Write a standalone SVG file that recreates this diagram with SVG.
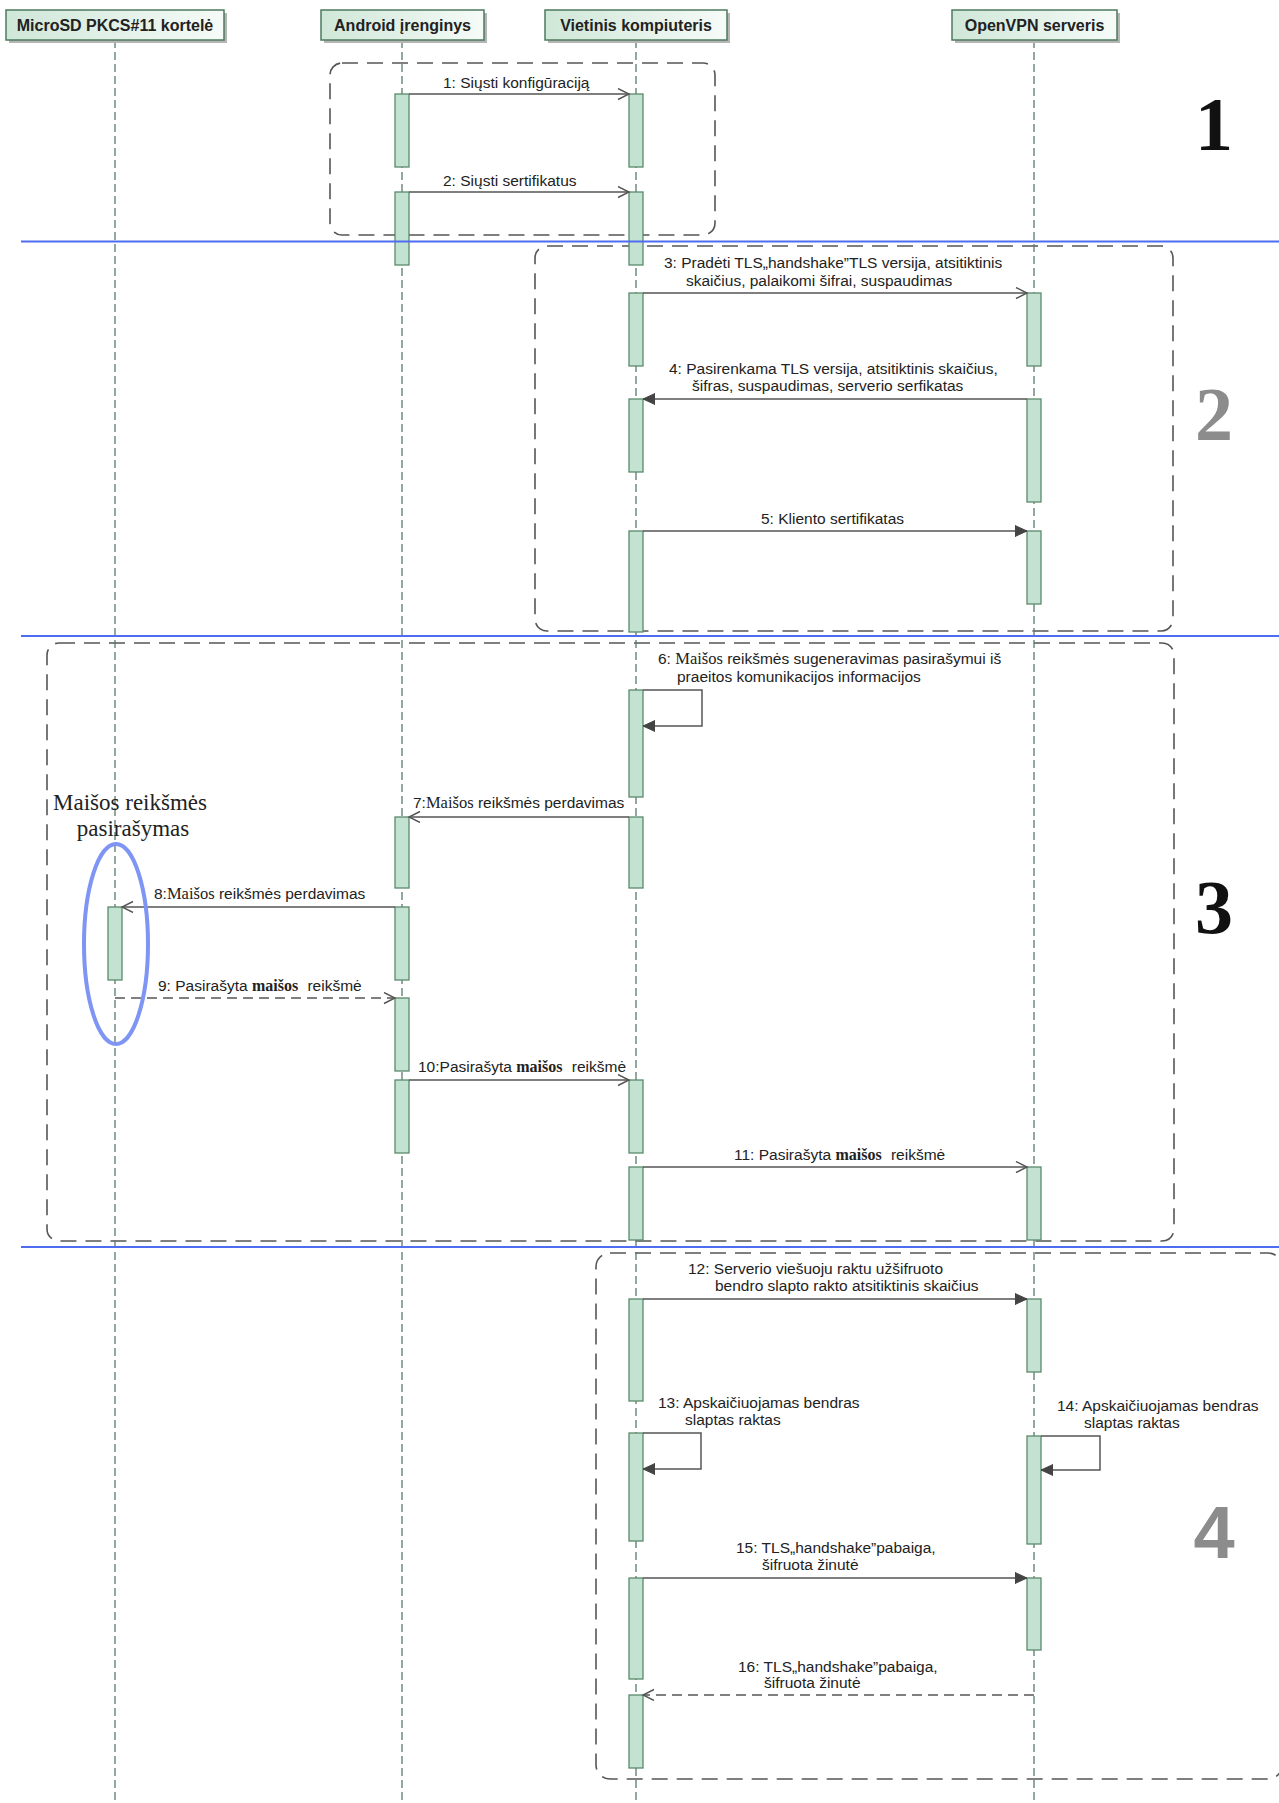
<svg xmlns="http://www.w3.org/2000/svg" width="1279" height="1803" viewBox="0 0 1279 1803">
  <defs>
    <linearGradient id="headFill" x1="0" y1="0" x2="1" y2="0">
      <stop offset="0" stop-color="#cfe7d8"/>
      <stop offset="1" stop-color="#f6fbf8"/>
    </linearGradient>
    <marker id="open" markerUnits="userSpaceOnUse" markerWidth="14" markerHeight="14" refX="12" refY="6" orient="auto">
      <path d="M1,0.5 L12,6 L1,11.5" fill="none" stroke="#555" stroke-width="1.4"/>
    </marker>
    <marker id="filled" markerUnits="userSpaceOnUse" markerWidth="14" markerHeight="14" refX="12" refY="6" orient="auto">
      <path d="M0,0.5 L12,6 L0,11.5 Z" fill="#444" stroke="#444" stroke-width="1"/>
    </marker>
  </defs>
  <style>
    .head { fill: url(#headFill); stroke: #4d7a5d; stroke-width: 1.5; }
    .shadow { fill: #b5b5b5; }
    .headtxt { font-family: "Liberation Sans", Arial, sans-serif; font-weight: bold; font-size: 16px; fill: #222; text-anchor: middle; }
    .life { stroke: #5a7a6a; stroke-width: 1.3; stroke-dasharray: 8 4; fill: none; }
    .act { fill: #c4e2d1; stroke: #5a8a6a; stroke-width: 1.3; }
    .frame { fill: none; stroke: #555; stroke-width: 1.6; stroke-dasharray: 16 9; }
    .sep { stroke: #4e6cf0; stroke-width: 2; }
    .msg { stroke: #555; stroke-width: 1.5; fill: none; }
    .dash { stroke-dasharray: 10 6; }
    .lbl { font-family: "Liberation Sans", Arial, sans-serif; font-size: 15.5px; fill: #222; }
    .ser { font-family: "Liberation Serif", "Times New Roman", serif; font-size: 16.5px; }
    .serb { font-family: "Liberation Serif", "Times New Roman", serif; font-weight: bold; font-size: 16px; }
    .big { font-family: "Liberation Serif", "Times New Roman", serif; font-weight: bold; font-size: 76px; text-anchor: middle; }
    .note { font-family: "Liberation Serif", "Times New Roman", serif; font-size: 23px; fill: #222; text-anchor: middle; }
  </style>

  <rect width="1279" height="1803" fill="#fff"/>

  <!-- phase frames -->
  <g id="frames">
    <rect class="frame" x="330" y="63" width="385" height="172" rx="12"/>
    <rect class="frame" x="535" y="246" width="638" height="385" rx="12"/>
    <rect class="frame" x="47" y="643" width="1127" height="598" rx="12"/>
    <rect class="frame" x="596" y="1253" width="686" height="526" rx="14"/>
  </g>

  <!-- lifelines -->
  <g id="lifelines">
    <line class="life" x1="115" y1="40" x2="115" y2="1803"/>
    <line class="life" x1="402" y1="40" x2="402" y2="1803"/>
    <line class="life" x1="636" y1="40" x2="636" y2="1803"/>
    <line class="life" x1="1034" y1="40" x2="1034" y2="1803"/>
  </g>

  <g id="microsd">
    <rect class="shadow" x="9" y="13" width="218" height="30"/>
    <rect class="head" x="6" y="10" width="218" height="30"/>
    <text class="headtxt" x="115" y="31">MicroSD PKCS#11 kortelė</text>
    <rect class="act" x="108" y="907" width="14" height="73"/>
  </g>

  <g id="android">
    <rect class="shadow" x="324" y="13" width="163" height="30"/>
    <rect class="head" x="321" y="10" width="163" height="30"/>
    <text class="headtxt" x="402.5" y="31">Android įrenginys</text>
    <rect class="act" x="395" y="94" width="14" height="73"/>
    <rect class="act" x="395" y="192" width="14" height="73"/>
    <rect class="act" x="395" y="817" width="14" height="71"/>
    <rect class="act" x="395" y="907" width="14" height="73"/>
    <rect class="act" x="395" y="998" width="14" height="73"/>
    <rect class="act" x="395" y="1080" width="14" height="73"/>
  </g>

  <g id="vietinis">
    <rect class="shadow" x="548" y="13" width="182" height="30"/>
    <rect class="head" x="545" y="10" width="182" height="30"/>
    <text class="headtxt" x="636" y="31">Vietinis kompiuteris</text>
    <rect class="act" x="629" y="94" width="14" height="73"/>
    <rect class="act" x="629" y="192" width="14" height="73"/>
    <rect class="act" x="629" y="293" width="14" height="73"/>
    <rect class="act" x="629" y="399" width="14" height="73"/>
    <rect class="act" x="629" y="531" width="14" height="101"/>
    <rect class="act" x="629" y="690" width="14" height="107"/>
    <rect class="act" x="629" y="817" width="14" height="71"/>
    <rect class="act" x="629" y="1080" width="14" height="73"/>
    <rect class="act" x="629" y="1167" width="14" height="73"/>
    <rect class="act" x="629" y="1299" width="14" height="102"/>
    <rect class="act" x="629" y="1433" width="14" height="108"/>
    <rect class="act" x="629" y="1578" width="14" height="101"/>
    <rect class="act" x="629" y="1695" width="14" height="73"/>
  </g>

  <g id="openvpn">
    <rect class="shadow" x="955" y="13" width="165" height="30"/>
    <rect class="head" x="952" y="10" width="165" height="30"/>
    <text class="headtxt" x="1034.5" y="31">OpenVPN serveris</text>
    <rect class="act" x="1027" y="293" width="14" height="73"/>
    <rect class="act" x="1027" y="399" width="14" height="103"/>
    <rect class="act" x="1027" y="531" width="14" height="73"/>
    <rect class="act" x="1027" y="1167" width="14" height="73"/>
    <rect class="act" x="1027" y="1299" width="14" height="73"/>
    <rect class="act" x="1027" y="1436" width="14" height="108"/>
    <rect class="act" x="1027" y="1578" width="14" height="72"/>
  </g>

  <!-- messages -->
  <g id="connectors">
    <line class="msg" x1="409" y1="94" x2="629" y2="94" marker-end="url(#open)"/>
    <line class="msg" x1="409" y1="192" x2="629" y2="192" marker-end="url(#open)"/>
    <line class="msg" x1="643" y1="293" x2="1027" y2="293" marker-end="url(#open)"/>
    <line class="msg" x1="1027" y1="399" x2="643" y2="399" marker-end="url(#filled)"/>
    <line class="msg" x1="643" y1="531" x2="1027" y2="531" marker-end="url(#filled)"/>
    <path class="msg" d="M643,690 H702 V726 H643" marker-end="url(#filled)"/>
    <line class="msg" x1="629" y1="817" x2="409" y2="817" marker-end="url(#open)"/>
    <line class="msg" x1="395" y1="907" x2="122" y2="907" marker-end="url(#open)"/>
    <line class="msg dash" x1="115" y1="998" x2="395" y2="998" marker-end="url(#open)"/>
    <line class="msg" x1="409" y1="1080" x2="629" y2="1080" marker-end="url(#open)"/>
    <line class="msg" x1="643" y1="1167" x2="1027" y2="1167" marker-end="url(#open)"/>
    <line class="msg" x1="643" y1="1299" x2="1027" y2="1299" marker-end="url(#filled)"/>
    <path class="msg" d="M643,1433 H701 V1469 H643" marker-end="url(#filled)"/>
    <path class="msg" d="M1041,1436 H1100 V1470 H1041" marker-end="url(#filled)"/>
    <line class="msg" x1="643" y1="1578" x2="1027" y2="1578" marker-end="url(#filled)"/>
    <line class="msg dash" x1="1034" y1="1695" x2="643" y2="1695" marker-end="url(#open)"/>
  </g>

  <!-- message labels -->
  <g id="labels">
    <text class="lbl" x="443" y="88">1: Siųsti konfigūraciją</text>
    <text class="lbl" x="443" y="186">2: Siųsti sertifikatus</text>
    <text class="lbl" x="664" y="268">3: Pradėti TLS„handshake”TLS versija, atsitiktinis</text>
    <text class="lbl" x="686" y="286">skaičius, palaikomi šifrai, suspaudimas</text>
    <text class="lbl" x="669" y="374">4: Pasirenkama TLS versija, atsitiktinis skaičius,</text>
    <text class="lbl" x="692" y="391">šifras, suspaudimas, serverio serfikatas</text>
    <text class="lbl" x="761" y="524">5: Kliento sertifikatas</text>
    <text class="lbl" x="658" y="664">6: <tspan class="ser">Maišos</tspan> reikšmės sugeneravimas pasirašymui iš</text>
    <text class="lbl" x="677" y="682">praeitos komunikacijos informacijos</text>
    <text class="lbl" x="413" y="808">7:<tspan class="ser">Maišos</tspan> reikšmės perdavimas</text>
    <text class="lbl" x="154" y="899">8:<tspan class="ser">Maišos</tspan> reikšmės perdavimas</text>
    <text class="lbl" x="158" y="991">9:  Pasirašyta <tspan class="serb">maišos</tspan><tspan dx="5"> reikšmė</tspan></text>
    <text class="lbl" x="418" y="1072">10:Pasirašyta <tspan class="serb">maišos</tspan><tspan dx="5"> reikšmė</tspan></text>
    <text class="lbl" x="734" y="1160">11: Pasirašyta <tspan class="serb">maišos</tspan><tspan dx="5"> reikšmė</tspan></text>
    <text class="lbl" x="688" y="1274">12: Serverio viešuoju raktu užšifruoto</text>
    <text class="lbl" x="715" y="1291">bendro slapto rakto atsitiktinis skaičius</text>
    <text class="lbl" x="658" y="1408">13: Apskaičiuojamas bendras</text>
    <text class="lbl" x="685" y="1425">slaptas raktas</text>
    <text class="lbl" x="1057" y="1411">14: Apskaičiuojamas bendras</text>
    <text class="lbl" x="1084" y="1428">slaptas raktas</text>
    <text class="lbl" x="736" y="1553">15: TLS„handshake”pabaiga,</text>
    <text class="lbl" x="762" y="1570">šifruota žinutė</text>
    <text class="lbl" x="738" y="1672">16: TLS„handshake”pabaiga,</text>
    <text class="lbl" x="764" y="1688">šifruota žinutė</text>
  </g>

  <!-- signing note -->
  <g id="signing-note">
    <text class="note" x="130" y="810">Maišos reikšmės</text>
    <text class="note" x="133" y="836">pasirašymas</text>
    <ellipse cx="116" cy="944" rx="32" ry="100" fill="none" stroke="#7e95f4" stroke-width="4"/>
  </g>

  <!-- phase numbers -->
  <g id="phase-numbers">
    <text class="big" x="1214" y="150" fill="#111">1</text>
    <text class="big" x="1214" y="440" fill="#8c8c8c">2</text>
    <text class="big" x="1214" y="933" fill="#111">3</text>
    <text class="big" x="1214" y="1558" fill="#8c8c8c" style="font-family:'Liberation Sans', Arial, sans-serif; font-size:74px">4</text>
  </g>

  <!-- phase separators -->
  <g id="separators">
    <line class="sep" x1="21" y1="241.5" x2="1279" y2="241.5"/>
    <line class="sep" x1="21" y1="636" x2="1279" y2="636"/>
    <line class="sep" x1="21" y1="1247" x2="1279" y2="1247"/>
  </g>
</svg>
